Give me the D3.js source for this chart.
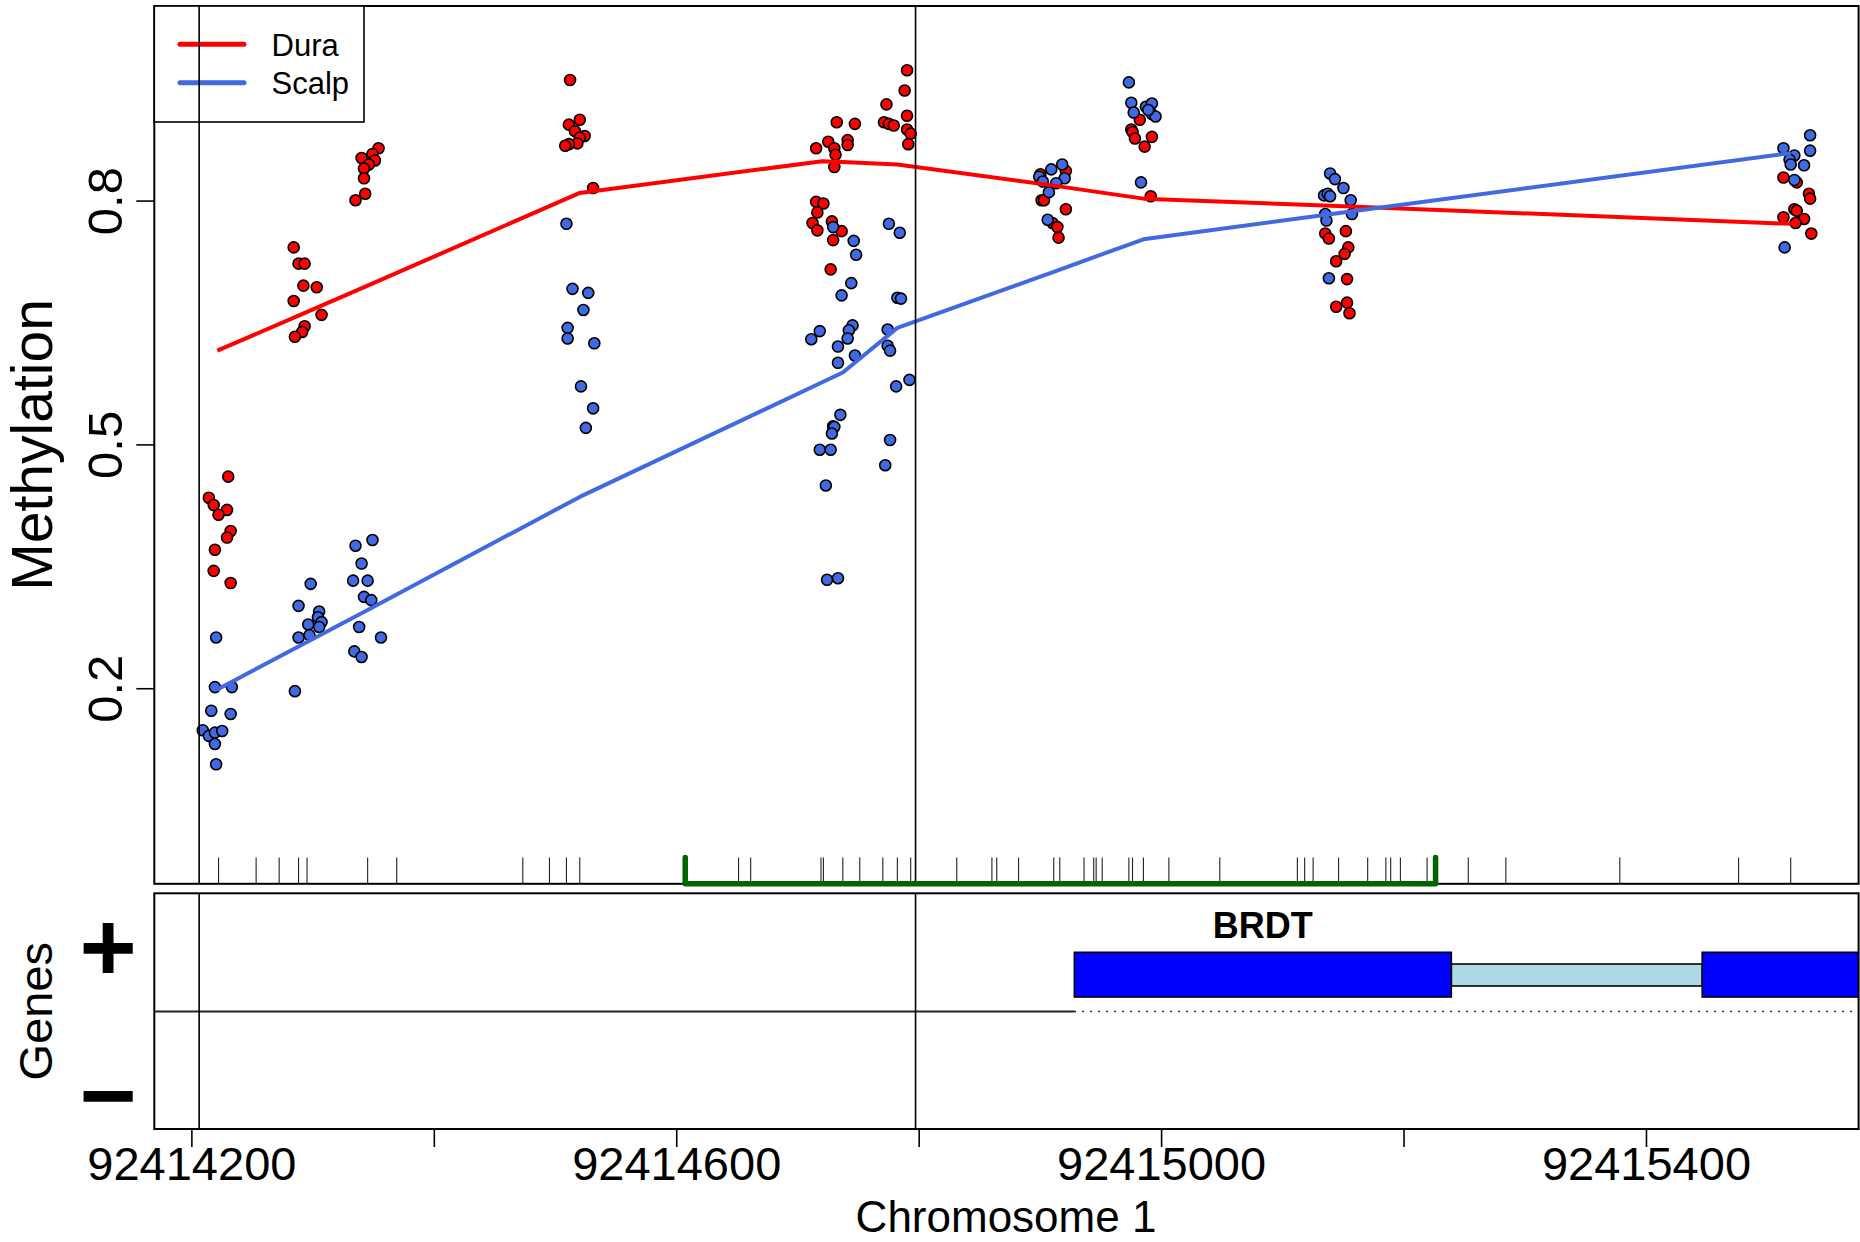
<!DOCTYPE html>
<html><head><meta charset="utf-8">
<script src="https://cdn.jsdelivr.net/npm/d3@7"></script>
<style>
body{margin:0;background:#fff}
svg{display:block}
text{font-family:"Liberation Sans",Arial,Helvetica,sans-serif;fill:#000}
</style></head>
<body><svg id="chart" width="1860" height="1242"></svg>
<script>
// ---------------- data ----------------
const posBase = 92414200;
const xDomain = [92414169, 92415575];
const yDomain = [-0.04, 1.04];
const xTicks = [92414200, 92414400, 92414600, 92414800, 92415000, 92415200, 92415400];
const xTickLabels = ["92414200", "", "92414600", "", "92415000", "", "92415400"];
const yTicks = [0.2, 0.5, 0.8];
const yTickLabels = ["0.2", "0.5", "0.8"];
const xTitle = "Chromosome 1";
const yTitle = "Methylation";
const geneTrackTitle = "Genes";
const seriesNames = ["Dura", "Scalp"];
const seriesColors = ["#FF0000", "#4169E1"];

// CpG positions (offset from posBase) shown as rug
const cpgOffsets = [22,53,72,88,95,145,169,273,295,309,320,451,461,519,521,537,551,570,582,593,631,660,664,682,711,716,736,744,746,751,773,776,785,806,848,912,918,925,946,970,985,989,997,1019,1053,1084,1178,1276,1319];

// smoothed lines [offset, methylation]
const duraLine = [[21,0.616],[88,0.659],[145,0.696],[320,0.810],[520,0.849],[537,0.848],[582,0.845],[711,0.819],[785,0.803],[945,0.794],[1319,0.772]];
const scalpLine = [[21,0.199],[88,0.252],[145,0.297],[320,0.436],[520,0.577],[537,0.589],[582,0.644],[711,0.713],[785,0.753],[945,0.785],[1319,0.859]];

// individual samples [jittered offset, methylation]
const duraPoints = [
[30,0.461],[14,0.435],[18,0.426],[29,0.420],[22,0.414],[32,0.394],[29,0.386],[19,0.371],[18,0.345],[32,0.330],
[84,0.743],[88,0.723],[93,0.723],[92,0.696],[103,0.694],[84,0.677],[107,0.660],[93,0.646],[91,0.639],[85,0.633],
[154,0.865],[149,0.858],[140,0.853],[151,0.850],[146,0.845],[142,0.840],[142,0.828],[143,0.809],[135,0.801],
[312,0.949],[320,0.900],[311,0.894],[316,0.886],[324,0.880],[320,0.878],[318,0.871],[311,0.870],[308,0.868],[331,0.816],
[532,0.897],[547,0.895],[525,0.873],[541,0.875],[541,0.869],[515,0.865],[530,0.865],[531,0.857],[530,0.842],[515,0.799],[521,0.797],[516,0.786],[512,0.773],[528,0.775],[516,0.764],[536,0.763],[529,0.752],[527,0.716],
[590,0.961],[588,0.936],[573,0.919],[590,0.905],[571,0.897],[575,0.895],[579,0.893],[590,0.888],[593,0.883],[591,0.870],
[721,0.837],[700,0.833],[701,0.801],[703,0.801],[721,0.790],[710,0.773],[714,0.768],[715,0.755],
[782,0.900],[775,0.888],[776,0.885],[778,0.877],[792,0.879],[786,0.867],[791,0.806],
[935,0.760],[938,0.754],[952,0.763],[954,0.743],[951,0.735],[944,0.726],[953,0.704],[953,0.675],[944,0.670],[955,0.662],
[1313,0.829],[1324,0.823],[1334,0.809],[1335,0.803],[1322,0.790],[1324,0.788],[1313,0.780],[1330,0.778],[1323,0.773],[1336,0.760]
];
const scalpPoints = [
[20,0.263],[19,0.202],[33,0.202],[16,0.173],[32,0.169],[9,0.149],[14,0.142],[19,0.146],[25,0.148],[19,0.132],[20,0.107],
[98,0.329],[88,0.302],[105,0.295],[104,0.288],[107,0.282],[96,0.279],[105,0.276],[88,0.263],[97,0.266],[85,0.197],
[149,0.383],[135,0.376],[140,0.354],[133,0.333],[145,0.333],[142,0.313],[148,0.309],[138,0.276],[156,0.263],[134,0.246],[140,0.239],
[309,0.772],[314,0.692],[327,0.687],[323,0.666],[310,0.644],[310,0.631],[332,0.625],[321,0.572],[331,0.545],[325,0.521],
[529,0.768],[546,0.751],[548,0.734],[544,0.699],[536,0.684],[518,0.640],[511,0.630],[545,0.647],[542,0.641],[541,0.631],[533,0.621],[533,0.601],[547,0.610],[535,0.537],[529,0.523],[530,0.522],[528,0.514],[518,0.494],[527,0.494],[523,0.450],[524,0.334],[533,0.336],
[575,0.772],[584,0.761],[582,0.681],[585,0.680],[574,0.642],[574,0.622],[576,0.616],[592,0.580],[581,0.572],[576,0.506],[572,0.475],
[699,0.830],[709,0.839],[718,0.845],[720,0.828],[713,0.822],[707,0.811],[706,0.777],[702,0.824],
[773,0.946],[775,0.921],[777,0.909],[787,0.916],[792,0.920],[792,0.907],[795,0.904],[789,0.912],[783,0.823],
[939,0.834],[943,0.827],[950,0.816],[934,0.807],[937,0.809],[939,0.806],[956,0.801],[935,0.784],[957,0.784],[936,0.776],[938,0.705],
[1335,0.881],[1313,0.865],[1335,0.862],[1322,0.856],[1318,0.851],[1319,0.845],[1330,0.844],[1322,0.826],[1314,0.743]
];

const dmrRegion = [92414607, 92415226];
const markerLines = [92414206, 92414797];
const geneName = "BRDT";
const geneStrand = "+";
const geneStart = 92414928;
const geneExons = [[92414928, 92415239], [92415446, 92415700]];
const geneIntrons = [[92415239, 92415446]];
const strandLabels = ["+", "\u2212"];

// ---------------- layout ----------------
const L = 154.3, R = 1858.6, T = 6, B1 = 883.8, T2 = 893.3, B2 = 1129;
const svg = d3.select("#chart");
const x = d3.scaleLinear().domain(xDomain).range([L, R]);
const y = d3.scaleLinear().domain(yDomain).range([B1, T]);

const defs = svg.append("defs");
defs.append("clipPath").attr("id","clipTop")
  .append("rect").attr("x",L).attr("y",T).attr("width",R-L).attr("height",B1-T);
defs.append("clipPath").attr("id","clipBot")
  .append("rect").attr("x",L).attr("y",T2).attr("width",R-L).attr("height",B2-T2);

// ---------------- upper panel ----------------
const topG = svg.append("g").attr("clip-path","url(#clipTop)");

// rug
const rugLen = 0.03*(B1-T);
topG.append("g").selectAll("line").data(cpgOffsets).join("line")
  .attr("x1",d=>x(posBase+d)).attr("x2",d=>x(posBase+d))
  .attr("y1",B1).attr("y2",B1-rugLen)
  .attr("stroke","#222").attr("stroke-width",1.1);

// marker lines
svg.append("g").selectAll("line").data(markerLines).join("line")
  .attr("x1",d=>x(d)).attr("x2",d=>x(d)).attr("y1",T).attr("y2",B1)
  .attr("stroke","#000").attr("stroke-width",1.6);

// points
const ptsData = [duraPoints, scalpPoints];
ptsData.forEach((pts,i)=>{
  topG.append("g").selectAll("circle").data(pts).join("circle")
    .attr("cx",d=>x(posBase+d[0])).attr("cy",d=>y(d[1])).attr("r",5.5)
    .attr("fill",seriesColors[i]).attr("stroke","#000").attr("stroke-width",1.6);
});

// lines
[duraLine, scalpLine].forEach((ln,i)=>{
  topG.append("path").datum(ln)
    .attr("d", d3.line().x(d=>x(posBase+d[0])).y(d=>y(d[1])))
    .attr("fill","none").attr("stroke",seriesColors[i]).attr("stroke-width",4)
    .attr("stroke-linejoin","round");
});

// frame upper
svg.append("rect").attr("x",L).attr("y",T).attr("width",R-L).attr("height",B1-T)
  .attr("fill","none").attr("stroke","#000").attr("stroke-width",2);

// dmr bracket (drawn over the frame, not clipped)
svg.append("path")
  .datum([[dmrRegion[0],B1-rugLen],[dmrRegion[0],B1],[dmrRegion[1],B1],[dmrRegion[1],B1-rugLen]])
  .attr("d", d3.line().x(d=>x(d[0])).y(d=>d[1]))
  .attr("fill","none").attr("stroke","#006400").attr("stroke-width",5.5)
  .attr("stroke-linejoin","round").attr("stroke-linecap","round");

// y axis
const yAx = svg.append("g");
yAx.selectAll("line").data(yTicks).join("line")
  .attr("x1",L-18).attr("x2",L).attr("y1",d=>y(d)).attr("y2",d=>y(d))
  .attr("stroke","#000").attr("stroke-width",1.6);
yAx.selectAll("text").data(yTicks).join("text")
  .attr("transform",d=>`translate(122,${y(d)}) rotate(-90)`)
  .attr("text-anchor","middle").attr("font-size",49)
  .text((d,i)=>yTickLabels[i]);
svg.append("text").attr("transform",`translate(52,${y(0.5)}) rotate(-90)`)
  .attr("text-anchor","middle").attr("font-size",57).text(yTitle);

// legend
const lg = svg.append("g");
lg.append("rect").attr("x",L).attr("y",T).attr("width",364-L).attr("height",122-T)
  .attr("fill","#fff").attr("stroke","#000").attr("stroke-width",1.6);
seriesNames.forEach((nm,i)=>{
  const ly = 44.3 + i*38.4;
  lg.append("line").attr("x1",180).attr("x2",244).attr("y1",ly).attr("y2",ly)
    .attr("stroke",seriesColors[i]).attr("stroke-width",5).attr("stroke-linecap","round");
  lg.append("text").attr("x",271.5).attr("y",ly+11.5).attr("font-size",31).text(nm);
});
lg.append("line").attr("x1",x(markerLines[0])).attr("x2",x(markerLines[0])).attr("y1",T).attr("y2",122)
  .attr("stroke","#000").attr("stroke-width",1.6);

// ---------------- gene panel ----------------
const botG = svg.append("g").attr("clip-path","url(#clipBot)");
const midY = 1011.5, boxTop = 952.3, boxBot = 997, inTop = 964, inBot = 986;
botG.append("line").attr("x1",L).attr("x2",x(geneStart)).attr("y1",midY).attr("y2",midY)
  .attr("stroke","#222").attr("stroke-width",2);
botG.append("line").attr("x1",x(geneStart)).attr("x2",R).attr("y1",midY).attr("y2",midY)
  .attr("stroke","#000").attr("stroke-width",1.4).attr("stroke-dasharray","1.6,6.4");
botG.selectAll("rect.intr").data(geneIntrons).join("rect").attr("class","intr")
  .attr("x",d=>x(d[0])).attr("width",d=>x(d[1])-x(d[0]))
  .attr("y",inTop).attr("height",inBot-inTop)
  .attr("fill","#ADD8E6").attr("stroke","#000").attr("stroke-width",1.6);
botG.selectAll("rect.exon").data(geneExons).join("rect").attr("class","exon")
  .attr("x",d=>x(d[0])).attr("width",d=>x(d[1])-x(d[0]))
  .attr("y",boxTop).attr("height",boxBot-boxTop)
  .attr("fill","#0000FF").attr("stroke","#000").attr("stroke-width",1.6);
botG.append("text").attr("x",x((geneExons[0][0]+geneExons[0][1])/2)).attr("y",938)
  .attr("text-anchor","middle").attr("font-size",36).attr("font-weight","bold").text(geneName);

svg.append("g").selectAll("line").data(markerLines).join("line")
  .attr("x1",d=>x(d)).attr("x2",d=>x(d)).attr("y1",T2).attr("y2",B2)
  .attr("stroke","#000").attr("stroke-width",1.6);

svg.append("rect").attr("x",L).attr("y",T2).attr("width",R-L).attr("height",B2-T2)
  .attr("fill","none").attr("stroke","#000").attr("stroke-width",2);

svg.append("text").attr("x",108).attr("y",981).attr("text-anchor","middle")
  .attr("font-size",98).attr("font-weight","bold").text(strandLabels[0]);
svg.append("text").attr("x",108).attr("y",1129).attr("text-anchor","middle")
  .attr("font-size",98).attr("font-weight","bold").text(strandLabels[1]);
svg.append("text").attr("transform",`translate(52,${(T2+B2)/2}) rotate(-90)`)
  .attr("text-anchor","middle").attr("font-size",47).text(geneTrackTitle);

// x axis
const xAx = svg.append("g");
xAx.selectAll("line").data(xTicks).join("line")
  .attr("x1",d=>x(d)).attr("x2",d=>x(d)).attr("y1",B2).attr("y2",B2+18)
  .attr("stroke","#000").attr("stroke-width",1.6);
xAx.selectAll("text").data(xTicks).join("text")
  .attr("x",d=>x(d)).attr("y",1180).attr("text-anchor","middle").attr("font-size",47)
  .text((d,i)=>xTickLabels[i]);
svg.append("text").attr("x",1006).attr("y",1232).attr("text-anchor","middle")
  .attr("font-size",44).text(xTitle);
</script></body></html>
